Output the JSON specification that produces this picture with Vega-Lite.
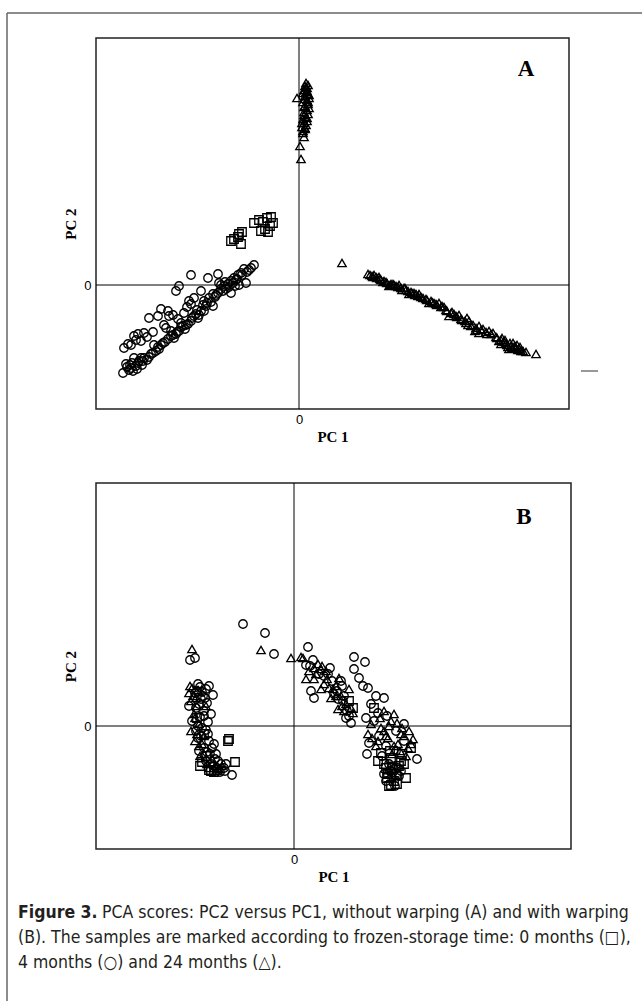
{
"$schema": "https://vega.github.io/schema/vega-lite/v6.json",
"padding": {"left": 5, "top": 11, "right": 0, "bottom": 0},
"background": "white",
"bounds": "flush",
"spacing": 74,
"config": {
 "view": {"stroke": "#222", "strokeWidth": 1.5},
 "scale": {"nice": false, "zero": false},
 "axis": {"labelFont": "Liberation Sans", "labelFontSize": 13, "labelColor": "#000", "titleFont": "Liberation Serif", "titleFontSize": 15, "titleFontWeight": "bold", "titleColor": "#000", "ticks": false, "domain": false, "grid": false, "format": "d"},
 "axisX": {"labelPadding": 4, "titlePadding": 3},
 "axisY": {"labelPadding": 5, "titlePadding": 5}
},
"datasets": {
 "pcaA": [
  {"time":"24","pc1":0.02,"pc2":1.26},{"time":"24","pc1":0.01,"pc2":1.39},{"time":"24","pc1":0.04,"pc2":1.54},{"time":"24","pc1":0.06,"pc2":1.56},{"time":"24","pc1":0.03,"pc2":1.58},{"time":"24","pc1":0.07,"pc2":1.6},{"time":"24","pc1":0.05,"pc2":1.62},{"time":"24","pc1":0.08,"pc2":1.64},{"time":"24","pc1":0.04,"pc2":1.66},{"time":"24","pc1":0.07,"pc2":1.68},{"time":"24","pc1":0.09,"pc2":1.71},{"time":"24","pc1":0.05,"pc2":1.73},{"time":"24","pc1":0.08,"pc2":1.75},{"time":"24","pc1":0.1,"pc2":1.77},{"time":"24","pc1":0.06,"pc2":1.79},{"time":"24","pc1":0.09,"pc2":1.81},{"time":"24","pc1":0.04,"pc2":1.83},{"time":"24","pc1":0.08,"pc2":1.85},{"time":"24","pc1":0.1,"pc2":1.87},{"time":"24","pc1":-0.02,"pc2":1.87},{"time":"24","pc1":0.06,"pc2":1.89},{"time":"24","pc1":0.09,"pc2":1.91},{"time":"24","pc1":0.07,"pc2":1.93},{"time":"24","pc1":0.05,"pc2":1.95},{"time":"24","pc1":0.08,"pc2":1.97},{"time":"24","pc1":0.06,"pc2":1.99},{"time":"24","pc1":0.07,"pc2":2.02},
  {"time":"24","pc1":0.05,"pc2":1.78},{"time":"24","pc1":0.09,"pc2":1.83},{"time":"24","pc1":0.06,"pc2":1.86},{"time":"24","pc1":0.1,"pc2":1.9},{"time":"24","pc1":0.04,"pc2":1.92},{"time":"24","pc1":0.08,"pc2":1.94},{"time":"24","pc1":0.07,"pc2":1.98},{"time":"24","pc1":0.09,"pc2":2.0},{"time":"24","pc1":0.05,"pc2":1.7},{"time":"24","pc1":0.08,"pc2":1.67},{"time":"24","pc1":0.03,"pc2":1.62},{"time":"24","pc1":0.06,"pc2":1.57},{"time":"24","pc1":0.04,"pc2":1.52},{"time":"24","pc1":0.05,"pc2":1.48},
  {"time":"24","pc1":0.43,"pc2":0.22},
  {"time":"24","pc1":0.69,"pc2":0.11},{"time":"24","pc1":0.73,"pc2":0.09},{"time":"24","pc1":0.77,"pc2":0.08},{"time":"24","pc1":0.82,"pc2":0.05},{"time":"24","pc1":0.87,"pc2":0.03},{"time":"24","pc1":0.92,"pc2":0.01},{"time":"24","pc1":0.97,"pc2":-0.01},{"time":"24","pc1":1.02,"pc2":-0.03},{"time":"24","pc1":1.07,"pc2":-0.05},{"time":"24","pc1":1.12,"pc2":-0.07},{"time":"24","pc1":1.17,"pc2":-0.09},{"time":"24","pc1":1.22,"pc2":-0.12},{"time":"24","pc1":1.27,"pc2":-0.14},{"time":"24","pc1":1.32,"pc2":-0.16},{"time":"24","pc1":1.37,"pc2":-0.19},{"time":"24","pc1":1.42,"pc2":-0.22},{"time":"24","pc1":1.47,"pc2":-0.25},{"time":"24","pc1":1.52,"pc2":-0.28},{"time":"24","pc1":1.57,"pc2":-0.31},{"time":"24","pc1":1.62,"pc2":-0.34},{"time":"24","pc1":1.67,"pc2":-0.38},{"time":"24","pc1":1.72,"pc2":-0.41},{"time":"24","pc1":1.77,"pc2":-0.43},{"time":"24","pc1":1.82,"pc2":-0.45},{"time":"24","pc1":1.87,"pc2":-0.47},{"time":"24","pc1":1.92,"pc2":-0.49},{"time":"24","pc1":1.97,"pc2":-0.52},{"time":"24","pc1":2.02,"pc2":-0.55},{"time":"24","pc1":2.07,"pc2":-0.58},{"time":"24","pc1":2.12,"pc2":-0.61},{"time":"24","pc1":2.17,"pc2":-0.63},{"time":"24","pc1":2.22,"pc2":-0.66},{"time":"24","pc1":2.27,"pc2":-0.67},{"time":"24","pc1":2.37,"pc2":-0.69},
  {"time":"24","pc1":0.8,"pc2":0.08},{"time":"24","pc1":0.9,"pc2":-0.01},{"time":"24","pc1":1.0,"pc2":0.0},{"time":"24","pc1":1.1,"pc2":-0.09},{"time":"24","pc1":1.2,"pc2":-0.09},{"time":"24","pc1":1.3,"pc2":-0.18},{"time":"24","pc1":1.4,"pc2":-0.18},{"time":"24","pc1":1.5,"pc2":-0.31},{"time":"24","pc1":1.6,"pc2":-0.3},{"time":"24","pc1":1.7,"pc2":-0.36},{"time":"24","pc1":1.8,"pc2":-0.48},{"time":"24","pc1":1.9,"pc2":-0.46},{"time":"24","pc1":2.0,"pc2":-0.56},{"time":"24","pc1":2.1,"pc2":-0.64},{"time":"24","pc1":1.8,"pc2":-0.41},{"time":"24","pc1":2.02,"pc2":-0.59},{"time":"24","pc1":2.14,"pc2":-0.58},
  {"time":"24","pc1":2.15,"pc2":-0.62},{"time":"24","pc1":2.18,"pc2":-0.6},{"time":"24","pc1":2.2,"pc2":-0.64},{"time":"24","pc1":2.05,"pc2":-0.57},{"time":"24","pc1":1.55,"pc2":-0.29},{"time":"24","pc1":1.45,"pc2":-0.22},{"time":"24","pc1":1.35,"pc2":-0.18},{"time":"24","pc1":1.15,"pc2":-0.08},{"time":"24","pc1":1.05,"pc2":-0.03},{"time":"24","pc1":0.95,"pc2":0.0},{"time":"24","pc1":0.85,"pc2":0.04},{"time":"24","pc1":0.75,"pc2":0.1},
  {"time":"24","pc1":0.71,"pc2":0.1},{"time":"24","pc1":0.74,"pc2":0.08},{"time":"24","pc1":0.78,"pc2":0.07},{"time":"24","pc1":0.81,"pc2":0.06},{"time":"24","pc1":0.84,"pc2":0.03},{"time":"24","pc1":0.88,"pc2":0.02},{"time":"24","pc1":0.91,"pc2":0.0},{"time":"24","pc1":0.94,"pc2":0.01},{"time":"24","pc1":0.99,"pc2":-0.02},{"time":"24","pc1":1.03,"pc2":-0.05},{"time":"24","pc1":1.06,"pc2":-0.03},{"time":"24","pc1":1.09,"pc2":-0.06},{"time":"24","pc1":1.13,"pc2":-0.08},{"time":"24","pc1":1.16,"pc2":-0.1},{"time":"24","pc1":1.19,"pc2":-0.11},{"time":"24","pc1":1.24,"pc2":-0.13},{"time":"24","pc1":1.28,"pc2":-0.15},{"time":"24","pc1":1.33,"pc2":-0.17},{"time":"24","pc1":1.38,"pc2":-0.2},{"time":"24","pc1":1.43,"pc2":-0.21},{"time":"24","pc1":1.48,"pc2":-0.26},{"time":"24","pc1":1.53,"pc2":-0.27},{"time":"24","pc1":1.58,"pc2":-0.32},{"time":"24","pc1":1.63,"pc2":-0.35},{"time":"24","pc1":1.66,"pc2":-0.36},{"time":"24","pc1":1.69,"pc2":-0.4},{"time":"24","pc1":1.74,"pc2":-0.4},{"time":"24","pc1":1.78,"pc2":-0.45},{"time":"24","pc1":1.84,"pc2":-0.44},{"time":"24","pc1":1.88,"pc2":-0.49},{"time":"24","pc1":1.94,"pc2":-0.48},{"time":"24","pc1":1.98,"pc2":-0.53},{"time":"24","pc1":2.03,"pc2":-0.53},{"time":"24","pc1":2.08,"pc2":-0.6},{"time":"24","pc1":2.11,"pc2":-0.58},{"time":"24","pc1":2.13,"pc2":-0.63},{"time":"24","pc1":2.16,"pc2":-0.61},{"time":"24","pc1":2.19,"pc2":-0.65},{"time":"24","pc1":2.21,"pc2":-0.62},{"time":"24","pc1":2.24,"pc2":-0.66},{"time":"24","pc1":2.09,"pc2":-0.62},{"time":"24","pc1":2.06,"pc2":-0.55},{"time":"24","pc1":1.76,"pc2":-0.46},{"time":"24","pc1":1.68,"pc2":-0.33},
  {"time":"0","pc1":-0.68,"pc2":0.44},{"time":"0","pc1":-0.61,"pc2":0.48},{"time":"0","pc1":-0.58,"pc2":0.41},{"time":"0","pc1":-0.6,"pc2":0.51},{"time":"0","pc1":-0.57,"pc2":0.53},{"time":"0","pc1":-0.65,"pc2":0.46},{"time":"0","pc1":-0.45,"pc2":0.62},{"time":"0","pc1":-0.4,"pc2":0.65},{"time":"0","pc1":-0.36,"pc2":0.63},{"time":"0","pc1":-0.32,"pc2":0.67},{"time":"0","pc1":-0.28,"pc2":0.68},{"time":"0","pc1":-0.29,"pc2":0.59},{"time":"0","pc1":-0.34,"pc2":0.56},{"time":"0","pc1":-0.38,"pc2":0.54},{"time":"0","pc1":-0.26,"pc2":0.62},{"time":"0","pc1":-0.31,"pc2":0.53},
  {"time":"4","pc1":-1.76,"pc2":-0.88},{"time":"4","pc1":-1.73,"pc2":-0.79},{"time":"4","pc1":-1.68,"pc2":-0.83},{"time":"4","pc1":-1.63,"pc2":-0.81},{"time":"4","pc1":-1.6,"pc2":-0.76},{"time":"4","pc1":-1.58,"pc2":-0.73},{"time":"4","pc1":-1.65,"pc2":-0.73},{"time":"4","pc1":-1.55,"pc2":-0.73},{"time":"4","pc1":-1.48,"pc2":-0.69},{"time":"4","pc1":-1.43,"pc2":-0.66},{"time":"4","pc1":-1.45,"pc2":-0.6},{"time":"4","pc1":-1.36,"pc2":-0.58},{"time":"4","pc1":-1.31,"pc2":-0.54},{"time":"4","pc1":-1.28,"pc2":-0.51},{"time":"4","pc1":-1.23,"pc2":-0.49},{"time":"4","pc1":-1.2,"pc2":-0.46},{"time":"4","pc1":-1.16,"pc2":-0.41},{"time":"4","pc1":-1.11,"pc2":-0.39},{"time":"4","pc1":-1.08,"pc2":-0.36},{"time":"4","pc1":-1.05,"pc2":-0.31},{"time":"4","pc1":-1.01,"pc2":-0.33},{"time":"4","pc1":-0.98,"pc2":-0.26},{"time":"4","pc1":-0.93,"pc2":-0.21},{"time":"4","pc1":-0.95,"pc2":-0.16},{"time":"4","pc1":-0.9,"pc2":-0.13},{"time":"4","pc1":-0.86,"pc2":-0.09},{"time":"4","pc1":-0.81,"pc2":-0.08},{"time":"4","pc1":-0.78,"pc2":-0.04},{"time":"4","pc1":-0.75,"pc2":-0.01},{"time":"4","pc1":-0.71,"pc2":0.01},{"time":"4","pc1":-0.68,"pc2":0.04},{"time":"4","pc1":-0.65,"pc2":0.07},{"time":"4","pc1":-0.61,"pc2":0.1},{"time":"4","pc1":-0.58,"pc2":0.12},{"time":"4","pc1":-0.55,"pc2":0.16},{"time":"4","pc1":-0.53,"pc2":0.02},{"time":"4","pc1":-0.45,"pc2":0.2},{"time":"4","pc1":-0.68,"pc2":-0.08},{"time":"4","pc1":-0.86,"pc2":-0.21},{"time":"4","pc1":-0.95,"pc2":-0.26},{"time":"4","pc1":-1.08,"pc2":-0.19},{"time":"4","pc1":-1.1,"pc2":-0.16},
  {"time":"4","pc1":-1.75,"pc2":-0.63},{"time":"4","pc1":-1.71,"pc2":-0.59},{"time":"4","pc1":-1.65,"pc2":-0.51},{"time":"4","pc1":-1.61,"pc2":-0.49},{"time":"4","pc1":-1.55,"pc2":-0.48},{"time":"4","pc1":-1.58,"pc2":-0.56},{"time":"4","pc1":-1.5,"pc2":-0.33},{"time":"4","pc1":-1.41,"pc2":-0.31},{"time":"4","pc1":-1.38,"pc2":-0.24},{"time":"4","pc1":-1.31,"pc2":-0.26},{"time":"4","pc1":-1.3,"pc2":-0.31},{"time":"4","pc1":-1.21,"pc2":-0.34},{"time":"4","pc1":-1.18,"pc2":-0.38},{"time":"4","pc1":-1.23,"pc2":-0.06},{"time":"4","pc1":-1.2,"pc2":-0.01},{"time":"4","pc1":-1.08,"pc2":0.1},{"time":"4","pc1":-0.91,"pc2":0.07},{"time":"4","pc1":-0.81,"pc2":0.11},{"time":"4","pc1":-0.8,"pc2":0.02},{"time":"4","pc1":-0.98,"pc2":-0.06},{"time":"4","pc1":-1.05,"pc2":-0.13},{"time":"4","pc1":-1.28,"pc2":-0.46},{"time":"4","pc1":-1.33,"pc2":-0.43},
  {"time":"4","pc1":-1.7,"pc2":-0.85},{"time":"4","pc1":-1.66,"pc2":-0.86},{"time":"4","pc1":-1.62,"pc2":-0.84},{"time":"4","pc1":-1.57,"pc2":-0.8},{"time":"4","pc1":-1.52,"pc2":-0.75},{"time":"4","pc1":-1.4,"pc2":-0.64},{"time":"4","pc1":-1.25,"pc2":-0.53},{"time":"4","pc1":-1.14,"pc2":-0.44},{"time":"4","pc1":-1.0,"pc2":-0.3},{"time":"4","pc1":-0.88,"pc2":-0.17},{"time":"4","pc1":-0.84,"pc2":-0.12},{"time":"4","pc1":-0.7,"pc2":-0.02},{"time":"4","pc1":-0.62,"pc2":0.06},{"time":"4","pc1":-0.6,"pc2":0.0},{"time":"4","pc1":-0.5,"pc2":0.15},{"time":"4","pc1":-0.64,"pc2":-0.01},{"time":"4","pc1":-0.74,"pc2":0.03},{"time":"4","pc1":-0.78,"pc2":0.0},{"time":"4","pc1":-0.96,"pc2":-0.2},{"time":"4","pc1":-1.02,"pc2":-0.25},
  {"time":"4","pc1":-1.72,"pc2":-0.82},{"time":"4","pc1":-1.69,"pc2":-0.8},{"time":"4","pc1":-1.67,"pc2":-0.78},{"time":"4","pc1":-1.61,"pc2":-0.78},{"time":"4","pc1":-1.56,"pc2":-0.76},{"time":"4","pc1":-1.5,"pc2":-0.72},{"time":"4","pc1":-1.46,"pc2":-0.68},{"time":"4","pc1":-1.41,"pc2":-0.62},{"time":"4","pc1":-1.38,"pc2":-0.6},{"time":"4","pc1":-1.34,"pc2":-0.57},{"time":"4","pc1":-1.26,"pc2":-0.5},{"time":"4","pc1":-1.22,"pc2":-0.47},{"time":"4","pc1":-1.18,"pc2":-0.42},{"time":"4","pc1":-1.13,"pc2":-0.4},{"time":"4","pc1":-1.07,"pc2":-0.33},{"time":"4","pc1":-1.03,"pc2":-0.29},{"time":"4","pc1":-0.92,"pc2":-0.18},{"time":"4","pc1":-0.83,"pc2":-0.1},{"time":"4","pc1":-0.76,"pc2":-0.06},{"time":"4","pc1":-0.73,"pc2":-0.04},{"time":"4","pc1":-0.66,"pc2":0.02},{"time":"4","pc1":-0.63,"pc2":0.05},{"time":"4","pc1":-0.57,"pc2":0.1},{"time":"4","pc1":-0.52,"pc2":0.13},{"time":"4","pc1":-0.48,"pc2":0.17},{"time":"4","pc1":-1.63,"pc2":-0.55},{"time":"4","pc1":-1.68,"pc2":-0.6},{"time":"4","pc1":-1.52,"pc2":-0.52},{"time":"4","pc1":-1.46,"pc2":-0.47},{"time":"4","pc1":-1.35,"pc2":-0.4},{"time":"4","pc1":-1.26,"pc2":-0.3},{"time":"4","pc1":-1.15,"pc2":-0.28},{"time":"4","pc1":-1.12,"pc2":-0.22}
 ],
 "pcaB": [
  {"time":"4","pc1":-0.94,"pc2":0.39},{"time":"4","pc1":-0.88,"pc2":0.37},{"time":"4","pc1":-0.81,"pc2":0.31},{"time":"4","pc1":-0.87,"pc2":0.23},{"time":"4","pc1":-0.93,"pc2":0.27},{"time":"4","pc1":-1.05,"pc2":0.2},{"time":"4","pc1":-0.9,"pc2":0.15},{"time":"4","pc1":-0.94,"pc2":0.09},{"time":"4","pc1":-0.99,"pc2":0.33},{"time":"4","pc1":-0.96,"pc2":0.42},{"time":"4","pc1":-0.85,"pc2":0.4},{"time":"4","pc1":-1.02,"pc2":0.05},{"time":"4","pc1":-0.92,"pc2":-0.02},{"time":"4","pc1":-0.86,"pc2":-0.08},{"time":"4","pc1":-0.8,"pc2":-0.18},{"time":"4","pc1":-0.9,"pc2":-0.22},{"time":"4","pc1":-0.96,"pc2":-0.12},{"time":"4","pc1":-0.84,"pc2":-0.28},{"time":"4","pc1":-0.76,"pc2":-0.35},{"time":"4","pc1":-0.7,"pc2":-0.42},{"time":"4","pc1":-0.62,"pc2":-0.49},{"time":"4","pc1":-0.88,"pc2":-0.35},{"time":"4","pc1":-0.8,"pc2":-0.4},{"time":"4","pc1":-0.95,"pc2":-0.25},{"time":"4","pc1":-0.74,"pc2":-0.46},{"time":"4","pc1":-0.98,"pc2":0.18},{"time":"4","pc1":-0.91,"pc2":0.3},{"time":"4","pc1":-0.83,"pc2":0.12},{"time":"4","pc1":-0.98,"pc2":-0.05},{"time":"4","pc1":-0.86,"pc2":0.04},{"time":"4","pc1":-0.78,"pc2":-0.28},{"time":"4","pc1":-0.68,"pc2":-0.38},
  {"time":"4","pc1":-0.97,"pc2":0.35},{"time":"4","pc1":-0.92,"pc2":0.34},{"time":"4","pc1":-0.89,"pc2":0.28},{"time":"4","pc1":-0.95,"pc2":0.22},{"time":"4","pc1":-0.9,"pc2":0.1},{"time":"4","pc1":-0.96,"pc2":0.0},{"time":"4","pc1":-0.88,"pc2":-0.04},{"time":"4","pc1":-0.93,"pc2":-0.1},{"time":"4","pc1":-0.85,"pc2":-0.15},{"time":"4","pc1":-0.82,"pc2":-0.22},{"time":"4","pc1":-0.87,"pc2":-0.26},{"time":"4","pc1":-0.79,"pc2":-0.33},{"time":"4","pc1":-0.73,"pc2":-0.38},{"time":"4","pc1":-0.69,"pc2":-0.45},{"time":"4","pc1":-0.77,"pc2":-0.42},{"time":"4","pc1":-0.83,"pc2":-0.38},
  {"time":"24","pc1":-1.05,"pc2":0.33},{"time":"24","pc1":-1.02,"pc2":0.38},{"time":"24","pc1":-0.98,"pc2":0.28},{"time":"24","pc1":-1.03,"pc2":0.25},{"time":"24","pc1":-1.0,"pc2":0.12},{"time":"24","pc1":-0.95,"pc2":0.02},{"time":"24","pc1":-1.03,"pc2":-0.05},{"time":"24","pc1":-0.99,"pc2":-0.15},{"time":"24","pc1":-0.9,"pc2":-0.1},{"time":"24","pc1":-0.94,"pc2":-0.3},{"time":"24","pc1":-0.85,"pc2":-0.42},{"time":"24","pc1":-0.78,"pc2":-0.45},{"time":"24","pc1":-0.96,"pc2":0.36},{"time":"24","pc1":-0.92,"pc2":-0.18},{"time":"24","pc1":-0.82,"pc2":-0.33},{"time":"24","pc1":-0.72,"pc2":-0.4},{"time":"24","pc1":-0.88,"pc2":0.2},
  {"time":"24","pc1":-1.01,"pc2":0.3},{"time":"24","pc1":-0.97,"pc2":0.2},{"time":"24","pc1":-0.99,"pc2":0.08},{"time":"24","pc1":-0.97,"pc2":-0.08},{"time":"24","pc1":-0.95,"pc2":-0.2},{"time":"24","pc1":-0.9,"pc2":-0.28},{"time":"24","pc1":-0.87,"pc2":-0.38},{"time":"24","pc1":-0.8,"pc2":-0.42},{"time":"24","pc1":-0.75,"pc2":-0.43},{"time":"24","pc1":-1.04,"pc2":0.4},
  {"time":"0","pc1":-0.66,"pc2":-0.15},{"time":"0","pc1":-0.65,"pc2":-0.13},{"time":"0","pc1":-0.59,"pc2":-0.36},{"time":"0","pc1":-0.85,"pc2":-0.44},{"time":"0","pc1":-0.8,"pc2":-0.46},{"time":"0","pc1":-0.94,"pc2":-0.4},{"time":"0","pc1":-0.9,"pc2":-0.08},{"time":"0","pc1":-0.97,"pc2":0.08},{"time":"0","pc1":-0.88,"pc2":-0.3},{"time":"0","pc1":-0.83,"pc2":-0.45},{"time":"0","pc1":-0.77,"pc2":-0.44},{"time":"0","pc1":-0.92,"pc2":-0.36},
  {"time":"24","pc1":-1.02,"pc2":0.77},{"time":"4","pc1":-1.04,"pc2":0.66},{"time":"4","pc1":-0.99,"pc2":0.68},{"time":"4","pc1":-0.51,"pc2":1.02},{"time":"4","pc1":-0.29,"pc2":0.93},{"time":"24","pc1":-0.33,"pc2":0.76},{"time":"4","pc1":-0.2,"pc2":0.72},{"time":"24","pc1":-0.03,"pc2":0.68},{"time":"24","pc1":0.07,"pc2":0.69},{"time":"4","pc1":0.14,"pc2":0.79},
  {"time":"24","pc1":0.09,"pc2":0.68},{"time":"4","pc1":0.19,"pc2":0.66},{"time":"4","pc1":0.12,"pc2":0.61},{"time":"24","pc1":0.2,"pc2":0.58},{"time":"24","pc1":0.27,"pc2":0.57},{"time":"4","pc1":0.36,"pc2":0.58},{"time":"24","pc1":0.12,"pc2":0.47},{"time":"24","pc1":0.2,"pc2":0.47},{"time":"24","pc1":0.33,"pc2":0.47},{"time":"4","pc1":0.17,"pc2":0.35},{"time":"4","pc1":0.2,"pc2":0.28},{"time":"24","pc1":0.27,"pc2":0.37},{"time":"24","pc1":0.39,"pc2":0.37},{"time":"24","pc1":0.45,"pc2":0.48},{"time":"24","pc1":0.55,"pc2":0.37},{"time":"24","pc1":0.37,"pc2":0.28},{"time":"24","pc1":0.44,"pc2":0.17},{"time":"24","pc1":0.5,"pc2":0.15},{"time":"24","pc1":0.59,"pc2":0.13},{"time":"4","pc1":0.47,"pc2":0.45},{"time":"4","pc1":0.49,"pc2":0.25},{"time":"4","pc1":0.52,"pc2":0.08},{"time":"4","pc1":0.57,"pc2":0.03},{"time":"0","pc1":0.55,"pc2":0.25},{"time":"0","pc1":0.59,"pc2":0.18},
  {"time":"24","pc1":0.24,"pc2":0.62},{"time":"24","pc1":0.28,"pc2":0.6},{"time":"24","pc1":0.32,"pc2":0.55},{"time":"24","pc1":0.42,"pc2":0.4},{"time":"24","pc1":0.47,"pc2":0.3},{"time":"24","pc1":0.52,"pc2":0.22},{"time":"24","pc1":0.57,"pc2":0.18},{"time":"4","pc1":0.25,"pc2":0.52},{"time":"4","pc1":0.3,"pc2":0.5},{"time":"4","pc1":0.4,"pc2":0.32},{"time":"4","pc1":0.44,"pc2":0.27},{"time":"4","pc1":0.53,"pc2":0.15},{"time":"4","pc1":0.48,"pc2":0.4},{"time":"4","pc1":0.43,"pc2":0.35},{"time":"4","pc1":0.55,"pc2":0.1},
  {"time":"24","pc1":0.15,"pc2":0.55},{"time":"24","pc1":0.22,"pc2":0.52},{"time":"24","pc1":0.3,"pc2":0.42},{"time":"24","pc1":0.35,"pc2":0.38},{"time":"24","pc1":0.42,"pc2":0.3},{"time":"24","pc1":0.48,"pc2":0.2},{"time":"4","pc1":0.16,"pc2":0.6},{"time":"4","pc1":0.34,"pc2":0.52},{"time":"4","pc1":0.38,"pc2":0.45},{"time":"4","pc1":0.5,"pc2":0.3},
  {"time":"4","pc1":0.6,"pc2":0.69},{"time":"4","pc1":0.71,"pc2":0.64},{"time":"4","pc1":0.6,"pc2":0.57},{"time":"4","pc1":0.65,"pc2":0.48},{"time":"4","pc1":0.69,"pc2":0.4},{"time":"4","pc1":0.74,"pc2":0.38},{"time":"4","pc1":0.82,"pc2":0.3},{"time":"4","pc1":0.9,"pc2":0.28},{"time":"4","pc1":0.77,"pc2":0.22},{"time":"4","pc1":0.72,"pc2":0.08},{"time":"4","pc1":0.75,"pc2":-0.17},{"time":"4","pc1":0.73,"pc2":-0.28},{"time":"4","pc1":1.1,"pc2":0.02},{"time":"4","pc1":1.23,"pc2":-0.33},{"time":"4","pc1":0.9,"pc2":-0.48},{"time":"4","pc1":1.0,"pc2":-0.43},{"time":"4","pc1":1.07,"pc2":-0.45},
  {"time":"24","pc1":0.74,"pc2":-0.08},{"time":"24","pc1":1.0,"pc2":0.12},{"time":"24","pc1":0.77,"pc2":0.02},{"time":"24","pc1":0.87,"pc2":-0.02},{"time":"24","pc1":0.97,"pc2":0.05},{"time":"24","pc1":1.19,"pc2":-0.13},{"time":"24","pc1":1.14,"pc2":-0.22},{"time":"24","pc1":0.84,"pc2":-0.15},{"time":"24","pc1":0.94,"pc2":-0.12},{"time":"24","pc1":1.07,"pc2":-0.08},
  {"time":"0","pc1":0.87,"pc2":-0.27},{"time":"0","pc1":0.97,"pc2":-0.32},{"time":"0","pc1":1.12,"pc2":-0.52},{"time":"0","pc1":0.97,"pc2":-0.59},{"time":"0","pc1":0.94,"pc2":-0.48},{"time":"0","pc1":1.17,"pc2":-0.22},{"time":"0","pc1":1.07,"pc2":-0.35},{"time":"0","pc1":0.8,"pc2":0.18},
  {"time":"4","pc1":0.85,"pc2":-0.1},{"time":"4","pc1":0.92,"pc2":-0.2},{"time":"4","pc1":1.02,"pc2":-0.25},{"time":"4","pc1":0.95,"pc2":-0.38},{"time":"4","pc1":1.05,"pc2":-0.5},{"time":"4","pc1":0.98,"pc2":-0.52},{"time":"4","pc1":1.1,"pc2":-0.15},{"time":"4","pc1":0.88,"pc2":-0.3},{"time":"4","pc1":1.02,"pc2":-0.05},{"time":"4","pc1":0.8,"pc2":0.05},{"time":"4","pc1":0.93,"pc2":0.1},{"time":"4","pc1":0.84,"pc2":0.13},
  {"time":"4","pc1":0.96,"pc2":-0.45},{"time":"4","pc1":1.04,"pc2":-0.42},{"time":"4","pc1":0.92,"pc2":-0.55},{"time":"4","pc1":1.01,"pc2":-0.6},{"time":"4","pc1":0.99,"pc2":-0.46},
  {"time":"24","pc1":0.9,"pc2":-0.05},{"time":"24","pc1":1.04,"pc2":-0.18},{"time":"24","pc1":0.98,"pc2":-0.28},{"time":"24","pc1":1.12,"pc2":-0.3},{"time":"24","pc1":0.82,"pc2":-0.2},{"time":"24","pc1":0.95,"pc2":0.0},{"time":"24","pc1":1.08,"pc2":-0.02},{"time":"24","pc1":0.9,"pc2":0.15},
  {"time":"24","pc1":1.0,"pc2":-0.2},{"time":"24","pc1":1.06,"pc2":-0.25},{"time":"24","pc1":1.1,"pc2":-0.1},{"time":"24","pc1":0.92,"pc2":-0.1},{"time":"24","pc1":1.15,"pc2":-0.05},{"time":"24","pc1":1.17,"pc2":-0.18},{"time":"24","pc1":0.86,"pc2":0.08},{"time":"24","pc1":0.78,"pc2":-0.12},{"time":"24","pc1":1.03,"pc2":0.03},
  {"time":"0","pc1":0.92,"pc2":-0.42},{"time":"0","pc1":1.0,"pc2":-0.55},{"time":"0","pc1":1.05,"pc2":-0.4},{"time":"0","pc1":0.96,"pc2":-0.25},{"time":"0","pc1":1.1,"pc2":-0.38},{"time":"0","pc1":0.84,"pc2":-0.35},{"time":"0","pc1":1.02,"pc2":-0.48},
  {"time":"0","pc1":0.95,"pc2":-0.6},{"time":"0","pc1":1.03,"pc2":-0.58},{"time":"0","pc1":0.98,"pc2":-0.42},{"time":"0","pc1":1.08,"pc2":-0.28},{"time":"0","pc1":0.9,"pc2":-0.38},{"time":"0","pc1":0.93,"pc2":-0.52}
 ],
 "caption": [
  {"line":1,"part":"head","text":"Figure 3."},
  {"line":1,"part":"body","text":"PCA scores: PC2 versus PC1, without warping (A) and with warping"},
  {"line":2,"part":"rest","text":"(B). The samples are marked according to frozen-storage time: 0 months (□),"},
  {"line":3,"part":"rest","text":"4 months (○) and 24 months (△)."}
 ]
},
"vconcat": [
 {
  "width": 473, "height": 371,
  "layer": [
   {"data": {"name": "pcaA"},
    "mark": {"type": "point", "filled": false, "strokeWidth": 1.3, "color": "#000", "opacity": 1},
    "encoding": {
     "x": {"field": "pc1", "type": "quantitative", "scale": {"domain": [-2.03, 2.70], "nice": false}, "axis": {"title": "PC 1", "values": [0]}},
     "y": {"field": "pc2", "type": "quantitative", "scale": {"domain": [-1.24, 2.47], "nice": false}, "axis": {"title": "PC 2", "values": [0]}},
     "shape": {"field": "time", "type": "nominal", "scale": {"domain": ["0", "4", "24"], "range": ["square", "circle", "triangle-up"]}, "legend": null},
     "size": {"field": "time", "type": "nominal", "scale": {"domain": ["0", "4", "24"], "range": [72, 72, 105]}, "legend": null}
    }},
   {"data": {"values": [{"origin": 0}]},
    "mark": {"type": "rule", "color": "#000", "strokeWidth": 1},
    "encoding": {"x": {"field": "origin", "type": "quantitative", "scale": {"domain": [-2.03, 2.70], "nice": false}, "axis": {"title": "PC 1", "values": [0]}}}},
   {"data": {"values": [{"origin": 0}]},
    "mark": {"type": "rule", "color": "#000", "strokeWidth": 1},
    "encoding": {"y": {"field": "origin", "type": "quantitative", "scale": {"domain": [-1.24, 2.47], "nice": false}, "axis": {"title": "PC 2", "values": [0]}}}},
   {"data": {"values": [{"x0": -2.92, "x1": 3.5, "ytop": 2.72, "ybottom": -7.3}]},
    "layer": [
     {"mark": {"type": "rule", "color": "#666", "strokeWidth": 1.5}, "encoding": {"x": {"field": "x0", "type": "quantitative"}, "x2": {"field": "x1"}, "y": {"field": "ytop", "type": "quantitative"}}},
     {"mark": {"type": "rule", "color": "#666", "strokeWidth": 1.5}, "encoding": {"x": {"field": "x0", "type": "quantitative"}, "y": {"field": "ytop", "type": "quantitative"}, "y2": {"field": "ybottom"}}}
    ]},
   {"data": {"values": [{"x0": 2.82, "x1": 2.99, "yv": -0.86}]},
    "mark": {"type": "rule", "color": "#333", "strokeWidth": 1},
    "encoding": {"x": {"field": "x0", "type": "quantitative"}, "x2": {"field": "x1"}, "y": {"field": "yv", "type": "quantitative"}}},
   {"data": {"values": [{"panel": "A", "pc1": 2.27, "pc2": 2.16}]},
    "mark": {"type": "text", "font": "Liberation Serif", "fontWeight": "bold", "fontSize": 23, "color": "#000", "align": "center", "baseline": "middle"},
    "encoding": {"x": {"field": "pc1", "type": "quantitative"}, "y": {"field": "pc2", "type": "quantitative"}, "text": {"field": "panel"}}}
  ]
 },
 {
  "width": 475, "height": 366,
  "layer": [
   {"data": {"name": "pcaB"},
    "mark": {"type": "point", "filled": false, "strokeWidth": 1.3, "color": "#000", "opacity": 1},
    "encoding": {
     "x": {"field": "pc1", "type": "quantitative", "scale": {"domain": [-1.98, 2.77], "nice": false}, "axis": {"title": "PC 1", "values": [0]}},
     "y": {"field": "pc2", "type": "quantitative", "scale": {"domain": [-1.23, 2.43], "nice": false}, "axis": {"title": "PC 2", "values": [0]}},
     "shape": {"field": "time", "type": "nominal", "scale": {"domain": ["0", "4", "24"], "range": ["square", "circle", "triangle-up"]}, "legend": null},
     "size": {"field": "time", "type": "nominal", "scale": {"domain": ["0", "4", "24"], "range": [80, 80, 110]}, "legend": null}
    }},
   {"data": {"values": [{"origin": 0}]},
    "mark": {"type": "rule", "color": "#000", "strokeWidth": 1},
    "encoding": {"x": {"field": "origin", "type": "quantitative", "scale": {"domain": [-1.98, 2.77], "nice": false}, "axis": {"title": "PC 1", "values": [0]}}}},
   {"data": {"values": [{"origin": 0}]},
    "mark": {"type": "rule", "color": "#000", "strokeWidth": 1},
    "encoding": {"y": {"field": "origin", "type": "quantitative", "scale": {"domain": [-1.23, 2.43], "nice": false}, "axis": {"title": "PC 2", "values": [0]}}}},
   {"data": {"values": [{"panel": "B", "pc1": 2.30, "pc2": 2.09}]},
    "mark": {"type": "text", "font": "Liberation Serif", "fontWeight": "bold", "fontSize": 23, "color": "#000", "align": "center", "baseline": "middle"},
    "encoding": {"x": {"field": "pc1", "type": "quantitative"}, "y": {"field": "pc2", "type": "quantitative"}, "text": {"field": "panel"}}}
  ]
 },
 {
  "width": 473, "height": 50,
  "view": {"stroke": null},
  "data": {"name": "caption"},
  "layer": [
   {"transform": [{"filter": "datum.part === 'head'"}],
    "mark": {"type": "text", "font": "DejaVu Sans Condensed, Liberation Sans", "fontWeight": "bold", "fontSize": 17.5, "color": "#231f20", "align": "left", "baseline": "middle"},
    "encoding": {"x": {"value": -78}, "y": {"field": "line", "type": "quantitative", "scale": {"domain": [1.4, 3.4], "reverse": true, "nice": false}, "axis": null}, "text": {"field": "text"}}},
   {"transform": [{"filter": "datum.part === 'body'"}],
    "mark": {"type": "text", "font": "DejaVu Sans Condensed, Liberation Sans", "fontSize": 17.5, "color": "#231f20", "align": "left", "baseline": "middle"},
    "encoding": {"x": {"value": 6}, "y": {"field": "line", "type": "quantitative", "scale": {"domain": [1.4, 3.4], "reverse": true, "nice": false}, "axis": null}, "text": {"field": "text"}}},
   {"transform": [{"filter": "datum.part === 'rest'"}],
    "mark": {"type": "text", "font": "DejaVu Sans Condensed, Liberation Sans", "fontSize": 17.5, "color": "#231f20", "align": "left", "baseline": "middle"},
    "encoding": {"x": {"value": -78}, "y": {"field": "line", "type": "quantitative", "scale": {"domain": [1.4, 3.4], "reverse": true, "nice": false}, "axis": null}, "text": {"field": "text"}}}
  ]
 }
]
}
